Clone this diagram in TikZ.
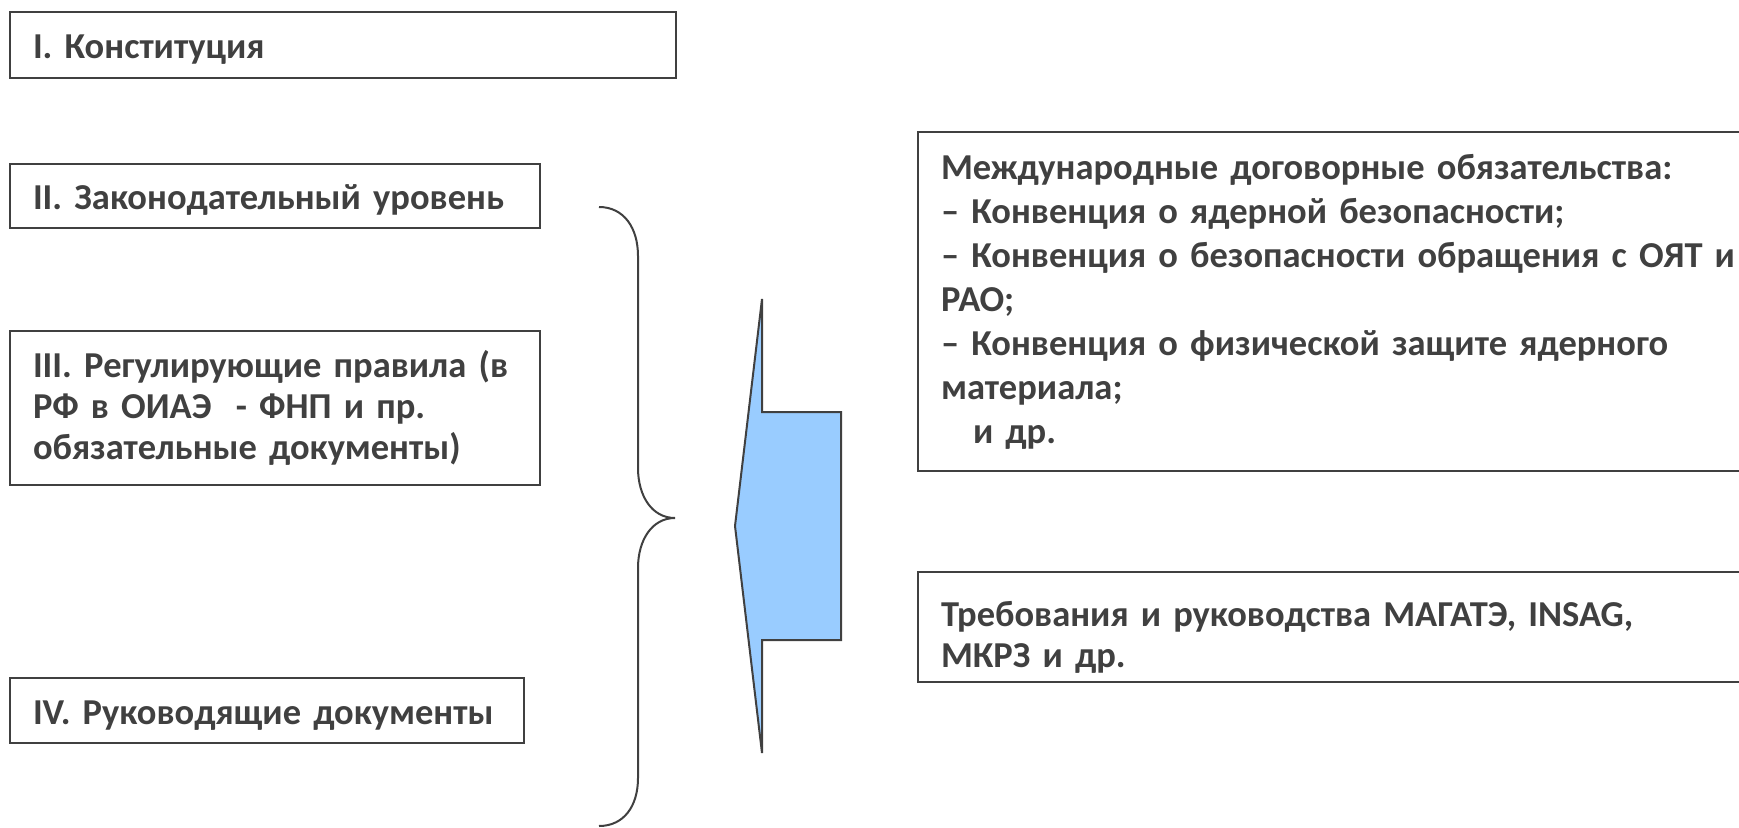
\documentclass[tikz,border=0pt]{standalone}
\usepackage{fontspec}
\setmainfont{Carlito}
\definecolor{txtgray}{HTML}{404040}
\definecolor{arrowblue}{HTML}{99CCFF}
\begin{document}
\begin{tikzpicture}[x=1pt,y=-1pt,
	box/.style={draw=txtgray,line width=2pt,anchor=north west,align=left,inner xsep=23pt,inner ysep=0pt,text=txtgray,font=\fontsize{36.5}{41}\selectfont\bfseries},
	brace/.style={draw=txtgray,line width=2pt},
	bigarrow/.style={draw=txtgray,line width=2pt,fill=arrowblue}]
	\useasboundingbox (0,0) rectangle (1739,827);
	\clip (0,0) rectangle (1739,827);
	\node[box,text width=620pt,text height=46pt,text depth=20pt] (konst) at (9,11) {I. Конституция};
	\node[box,text width=484pt,text height=45pt,text depth=19pt] (zakon) at (9,163) {II. Законодательный уровень};
	\node[box,text width=484pt,text height=46pt,text depth=108pt] (pravila) at (9,330) {III. Регулирующие правила (в\\РФ в ОИАЭ ~- ФНП и пр.\\обязательные документы)};
	\node[box,text width=468pt,text height=46pt,text depth=19pt] (rukovod) at (9,677) {IV. Руководящие документы};
	\node[box,font=\fontsize{36.5}{44}\selectfont\bfseries,text width=854pt,text height=47.5pt,text depth=291.5pt] (dogovor) at (917,131) {Международные договорные обязательства:\\– Конвенция о ядерной безопасности;\\– Конвенция о безопасности обращения с ОЯТ и\\РАО;\\– Конвенция о физической защите ядерного\\материала;\\\hspace*{32pt}и др.};
	\node[box,text width=854pt,text height=54pt,text depth=56pt] (magate) at (917,571) {Требования и руководства МАГАТЭ, INSAG,\\МКРЗ и др.};
	\coordinate (tip) at (675,518);
	\draw[brace] (599,207) .. controls (624,207) and (638,228) .. (638,256) -- (638,468)
		.. controls (638,496) and (652,518) .. (tip)
		.. controls (652,518) and (638,540) .. (638,568) -- (638,778)
		.. controls (638,806) and (624,826) .. (599,826);
	\draw[bigarrow] (762,299) -- (762,412) -- (841,412) -- (841,640) -- (762,640) -- (762,753) -- (735,526) -- cycle;
\end{tikzpicture}
\end{document}
